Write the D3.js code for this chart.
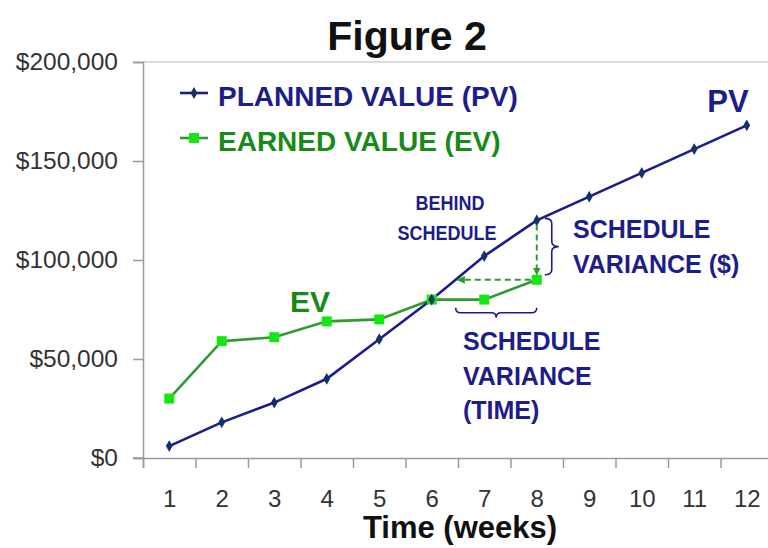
<!DOCTYPE html>
<html>
<head>
<meta charset="utf-8">
<script src="https://cdn.jsdelivr.net/npm/d3@7"></script>
<style>
  body { margin: 0; background: #fff; }
  svg { display: block; }
  text { font-family: "Liberation Sans", Arial, sans-serif; }
</style>
</head>
<body>
<svg id="chart" width="768" height="548"></svg>
<script>
// Earned value data, by week
const weeks = [1, 2, 3, 4, 5, 6, 7, 8, 9, 10, 11, 12];
const plannedValue = [6000, 18000, 28000, 40000, 60000, 80000, 102000, 120000, 132000, 144000, 156000, 168000];
const earnedValue = [30000, 59000, 61000, 69000, 70000, 80000, 80000, 90000];
const yTicks = [0, 50000, 100000, 150000, 200000];
const seriesNames = ["PLANNED VALUE (PV)", "EARNED VALUE (EV)"];
const statusWeek = 8;

const NAVY = "#1c1c8a", NAVY_MARK = "#12306a", GREEN = "#2f9a2f", GREEN_MARK = "#14e614", GREEN_TEXT = "#178a17";
const AXIS = "#9a9a9a", TICKTXT = "#333";

const svg = d3.select("#chart");

const x = d3.scaleLinear().domain([0.5, 12.5]).range([143, 773]);
const y = d3.scaleLinear().domain([0, 200000]).range([458, 62]);

// title
svg.append("text").attr("x", 407).attr("y", 50).attr("text-anchor", "middle")
  .attr("font-size", 41).attr("font-weight", "bold").attr("fill", "#111").text("Figure 2");

// plot frame (top edge)
svg.append("line").attr("x1", x.range()[0]).attr("x2", x.range()[1])
  .attr("y1", y(200000)).attr("y2", y(200000)).attr("stroke", "#cfcfcf").attr("stroke-width", 1.5);

// y axis
const yAxis = svg.append("g").attr("transform", `translate(${x.range()[0]},0)`)
  .call(d3.axisLeft(y).tickValues(yTicks).tickSize(10).tickPadding(15)
    .tickFormat(d => "$" + d3.format(",")(d)));
yAxis.select(".domain").attr("stroke", AXIS).attr("stroke-width", 1.5);
yAxis.selectAll(".tick line").attr("stroke", AXIS).attr("stroke-width", 1.5);
yAxis.selectAll(".tick text").attr("font-size", 24.5).attr("fill", TICKTXT)
  .attr("font-family", "'Liberation Sans', Arial, sans-serif");

// x axis: tick marks on week boundaries, labels centred on each week
const boundaries = weeks.map(w => w - 0.5);
const xAxis = svg.append("g").attr("transform", `translate(0,${y(0)})`)
  .call(d3.axisBottom(x).tickValues(boundaries).tickSize(10).tickFormat(""));
xAxis.select(".domain").attr("stroke", AXIS).attr("stroke-width", 1.5);
xAxis.selectAll(".tick line").attr("stroke", AXIS).attr("stroke-width", 1.5);
svg.append("line").attr("x1", 133).attr("x2", x.range()[0]).attr("y1", y(0)).attr("y2", y(0))
  .attr("stroke", AXIS).attr("stroke-width", 1.5);

const xLabels = svg.append("g").attr("transform", `translate(0,${y(0)})`)
  .call(d3.axisBottom(x).tickValues(weeks).tickSize(0).tickPadding(32).tickFormat(d3.format("d")));
xLabels.select(".domain").remove();
xLabels.selectAll(".tick text").attr("font-size", 24).attr("fill", TICKTXT)
  .attr("font-family", "'Liberation Sans', Arial, sans-serif");

svg.append("text").attr("x", 460).attr("y", 538).attr("text-anchor", "middle")
  .attr("font-size", 31).attr("font-weight", "bold").attr("fill", "#111").text("Time (weeks)");

// annotation text helper (optionally narrowed)
function label(tx, ty, str, size, color, anchor, sx) {
  const g = svg.append("g").attr("transform", `translate(${tx},${ty}) scale(${sx || 1},1)`);
  g.append("text").attr("text-anchor", anchor || "start").attr("font-size", size)
    .attr("font-weight", "bold").attr("fill", color).text(str);
}

label(450, 210, "BEHIND", 20, NAVY, "middle", 0.9);
label(447, 240, "SCHEDULE", 20, NAVY, "middle", 0.9);

// series lines
const pvData = weeks.map((w, i) => ({ w, v: plannedValue[i] }));
const evData = earnedValue.map((v, i) => ({ w: weeks[i], v }));
const line = d3.line().x(d => x(d.w)).y(d => y(d.v));

svg.append("path").datum(evData).attr("d", line).attr("fill", "none")
  .attr("stroke", GREEN).attr("stroke-width", 2.6);
svg.append("path").datum(pvData).attr("d", line).attr("fill", "none")
  .attr("stroke", NAVY).attr("stroke-width", 2.6);

svg.append("g").selectAll("rect").data(evData).join("rect")
  .attr("x", d => x(d.w) - 5).attr("y", d => y(d.v) - 5).attr("width", 10).attr("height", 10)
  .attr("fill", GREEN_MARK);
const diamond = d3.symbol().type(d3.symbolDiamond).size(40);
svg.append("g").selectAll("path").data(pvData).join("path")
  .attr("transform", d => `translate(${x(d.w)},${y(d.v)})`).attr("d", diamond)
  .attr("fill", NAVY_MARK);

// schedule variance guides
const sIdx = weeks.indexOf(statusWeek);
const evNow = earnedValue[sIdx], pvNow = plannedValue[sIdx];
// week at which planned value equalled current earned value
let crossW = statusWeek;
for (let i = 1; i < plannedValue.length; i++) {
  if (plannedValue[i - 1] <= evNow && plannedValue[i] >= evNow) {
    crossW = weeks[i - 1] + (evNow - plannedValue[i - 1]) / (plannedValue[i] - plannedValue[i - 1]);
    break;
  }
}
const defs = svg.append("defs");
defs.append("marker").attr("id", "arr").attr("viewBox", "0 0 10 10").attr("refX", 9).attr("refY", 5)
  .attr("markerWidth", 4).attr("markerHeight", 4).attr("orient", "auto")
  .append("path").attr("d", "M0,0L10,5L0,10Z").attr("fill", GREEN);

svg.append("line").attr("x1", x(statusWeek)).attr("x2", x(statusWeek))
  .attr("y1", y(pvNow) + 4).attr("y2", y(evNow) - 5)
  .attr("stroke", GREEN).attr("stroke-width", 2).attr("stroke-dasharray", "6,4")
  .attr("marker-end", "url(#arr)");
svg.append("line").attr("x1", x(statusWeek) - 6).attr("x2", x(crossW) + 2)
  .attr("y1", y(evNow)).attr("y2", y(evNow))
  .attr("stroke", GREEN).attr("stroke-width", 2).attr("stroke-dasharray", "6,4")
  .attr("marker-end", "url(#arr)");

// braces
function vBrace(x0, y1, y2, w) {
  const xm = x0 + w / 2, ym = (y1 + y2) / 2, r = 5;
  return `M${x0},${y1}Q${xm},${y1} ${xm},${y1 + r}L${xm},${ym - r}Q${xm},${ym} ${x0 + w},${ym}` +
    `Q${xm},${ym} ${xm},${ym + r}L${xm},${y2 - r}Q${xm},${y2} ${x0},${y2}`;
}
function hBrace(x1, x2, y0, h) {
  const ymid = y0 + h / 2, xm = (x1 + x2) / 2, r = 5;
  return `M${x1},${y0}Q${x1},${ymid} ${x1 + r},${ymid}L${xm - r},${ymid}Q${xm},${ymid} ${xm},${y0 + h}` +
    `Q${xm},${ymid} ${xm + r},${ymid}L${x2 - r},${ymid}Q${x2},${ymid} ${x2},${y0}`;
}
svg.append("path").attr("d", vBrace(x(statusWeek) + 8, y(pvNow) - 2, y(evNow) - 5, 14))
  .attr("fill", "none").attr("stroke", NAVY).attr("stroke-width", 1.6);
svg.append("path").attr("d", hBrace(x(crossW), x(statusWeek), y(evNow) + 28, 10))
  .attr("fill", "none").attr("stroke", NAVY).attr("stroke-width", 1.6);

label(573, 238, "SCHEDULE", 25, NAVY);
label(573, 273, "VARIANCE ($)", 25, NAVY);
label(463, 350, "SCHEDULE", 25, NAVY);
label(463, 385, "VARIANCE", 25, NAVY);
label(463, 419, "(TIME)", 25, NAVY);

label(728, 112, "PV", 31, NAVY, "middle");
label(310, 312, "EV", 30, GREEN_TEXT, "middle");

// legend
const legend = svg.append("g");
const legendY = [93, 138];
const colors = [NAVY, GREEN];
seriesNames.forEach((name, i) => {
  legend.append("line").attr("x1", 180).attr("x2", 208).attr("y1", legendY[i]).attr("y2", legendY[i])
    .attr("stroke", colors[i]).attr("stroke-width", 2.6);
  if (i === 0) {
    legend.append("path").attr("transform", `translate(194,${legendY[i]})`).attr("d", diamond).attr("fill", NAVY_MARK);
  } else {
    legend.append("rect").attr("x", 189).attr("y", legendY[i] - 5).attr("width", 10).attr("height", 10).attr("fill", GREEN_MARK);
  }
  legend.append("text").attr("x", 218).attr("y", legendY[i] + 13).attr("font-size", 28)
    .attr("font-weight", "bold").attr("fill", i === 0 ? NAVY : GREEN_TEXT).text(name);
});
</script>
</body>
</html>
